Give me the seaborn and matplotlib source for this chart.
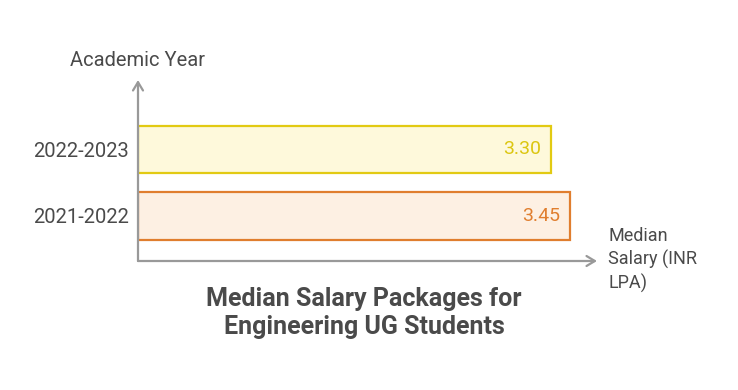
import matplotlib
matplotlib.use("Agg")
import matplotlib.pyplot as plt
import seaborn as sns
import pandas as pd

years = ["2022-2023", "2021-2022"]
salaries = [3.30, 3.45]
value_labels = ["3.30", "3.45"]
fill_colors = ["#fef9db", "#fdf0e3"]
edge_colors = ["#e2ca12", "#e07e2e"]
text_colors = ["#dcc610", "#e07e2e"]

sns.set_theme(style="white")
plt.rcParams["font.family"] = ["Roboto", "DejaVu Sans"]

df = pd.DataFrame({"year": years, "salary": salaries})

fig = plt.figure(figsize=(7.38, 3.90), dpi=100)
ax = fig.add_axes([138 / 738, (390 - 261) / 390, 459 / 738, (261 - 80) / 390])

sns.barplot(data=df, x="salary", y="year", hue="year", order=years, hue_order=years,
            palette=dict(zip(years, fill_colors)), orient="h", width=0.71,
            legend=False, ax=ax, saturation=1)

for cont, ec in zip(ax.containers, edge_colors):
    for p in cont:
        p.set_edgecolor(ec)
        p.set_linewidth(1.6)

for i, (v, lab, tc) in enumerate(zip(salaries, value_labels, text_colors)):
    ax.annotate(lab, xy=(v, i), xytext=(-7, 0), textcoords="offset points",
                ha="right", va="center", fontsize=14, color=tc)

ax.set_xlim(0, 459 / 125.2)
ax.set_ylim(1.677, -1.045)
for s in ax.spines.values():
    s.set_visible(False)
ax.set_xticks([])
ax.set_xlabel("")
ax.set_ylabel("")
ax.tick_params(axis="y", length=0, pad=6.5, labelsize=14.5, labelcolor="#4a4a4a")

axis_color = "#999999"
ax.annotate("", xy=(0, 1), xytext=(0, 0), xycoords="axes fraction",
            arrowprops=dict(arrowstyle="->,head_length=0.5,head_width=0.3", color=axis_color, lw=1.6,
                            shrinkA=0, shrinkB=0), annotation_clip=False)
ax.annotate("", xy=(1, 0), xytext=(0, 0), xycoords="axes fraction",
            arrowprops=dict(arrowstyle="->,head_length=0.5,head_width=0.3", color=axis_color, lw=1.6,
                            shrinkA=0, shrinkB=0), annotation_clip=False)

fig.text(138 / 738, 1 - 60 / 390, "Academic Year", ha="center", va="center",
         fontsize=14.5, color="#4a4a4a")
fig.text(608 / 738, 1 - 260 / 390, "Median\nSalary (INR\nLPA)", ha="left", va="center",
         fontsize=13, color="#4a4a4a", linespacing=1.3)
fig.text(364 / 738, 1 - 313 / 390, "Median Salary Packages for\nEngineering UG Students",
         ha="center", va="center", fontsize=18, fontweight="bold", color="#4a4a4a",
         linespacing=1.25)

fig.savefig("out.png", dpi=100)
